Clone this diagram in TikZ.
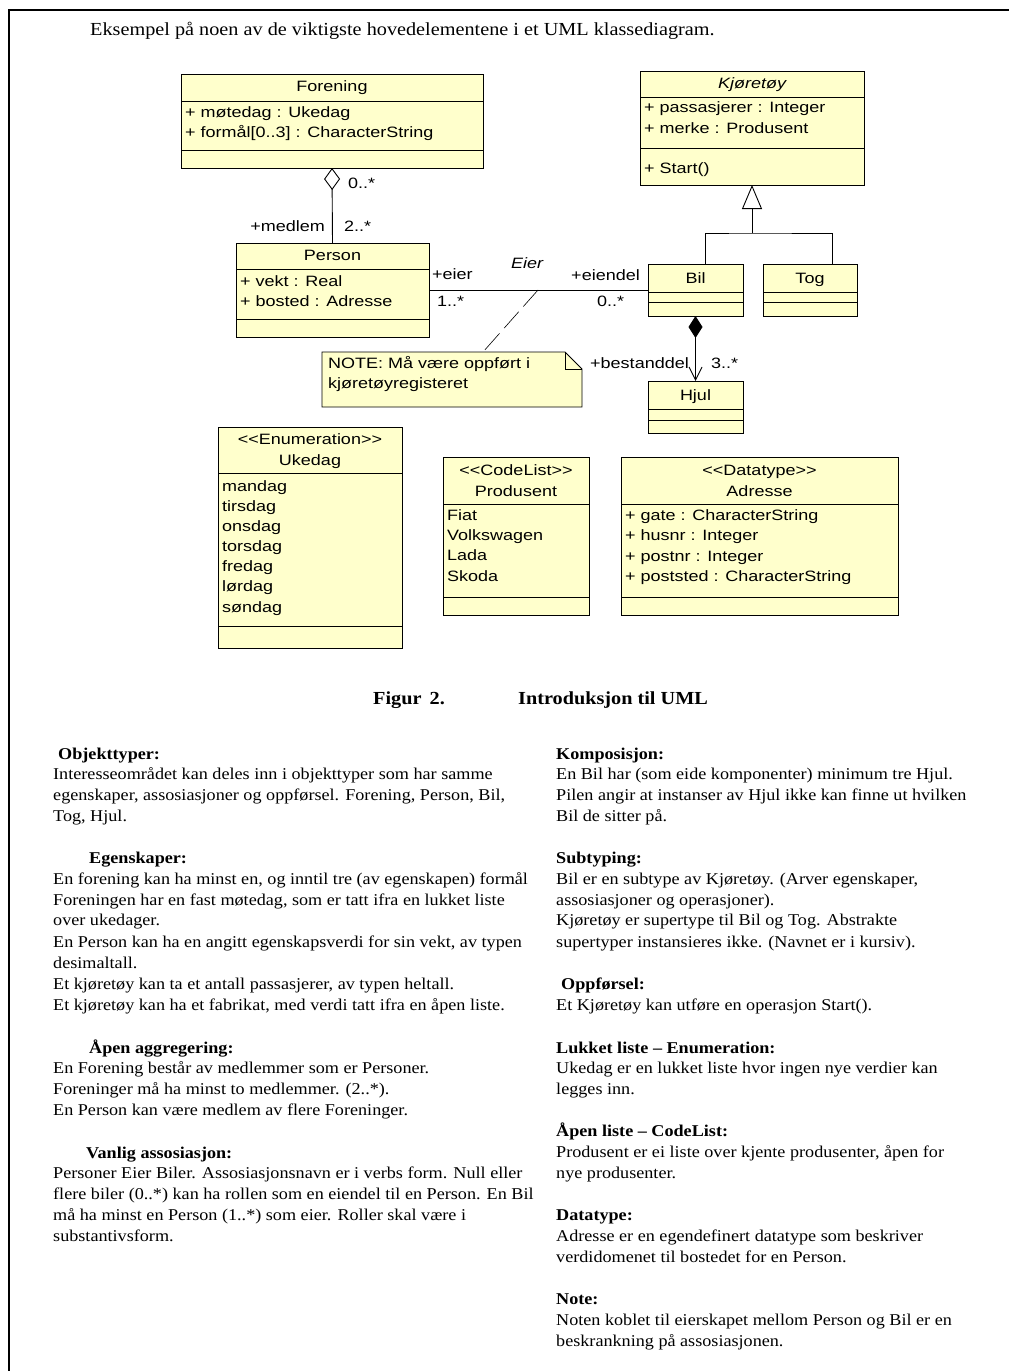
\documentclass[tikz,border=0pt]{standalone}
\usepackage{fontspec}
\setmainfont{Liberation Serif}[FakeStretch=1.1]
\newfontfamily\umlfont{Liberation Sans}[FakeStretch=1.2]
\usetikzlibrary{arrows.meta,fit}
\definecolor{umlyellow}{RGB}{255,255,204}
\tikzset{
  cls/.style={draw, fill=umlyellow, inner sep=0pt, outer sep=0pt, line width=0.9pt},
  sepl/.style={line width=0.9pt},
  conn/.style={line width=0.9pt},
  ut/.style={font=\umlfont\fontsize{15}{18}\selectfont, inner sep=0pt, anchor=mid west, yshift=-2.5pt},
  utc/.style={ut, anchor=mid},
  ute/.style={ut, anchor=mid east},
  bt/.style={font=\fontsize{16.5}{20}\selectfont, inner sep=0pt, anchor=mid west, yshift=-3pt},
  bh/.style={font=\bfseries\fontsize{16.5}{20}\selectfont, inner sep=0pt, anchor=mid west, yshift=-3pt},
  ht/.style={font=\fontsize{18.4}{22}\selectfont, inner sep=0pt, anchor=mid west, yshift=-3pt},
  hb/.style={font=\bfseries\fontsize{18.4}{22}\selectfont, inner sep=0pt, anchor=mid west, yshift=-3pt},
}
\begin{document}
\begin{tikzpicture}[x=1pt,y=-1pt]
\useasboundingbox (0,0) rectangle (1009,1371);
% page frame
\draw[line width=1.4pt] (9,1371) -- (9,10) -- (1009,10);
\node[ht] (head) at (90,30) {Eksempel på noen av de viktigste hovedelementene i et UML klassediagram.};

% ---------- Forening
\node[cls, fit={(181,74) (483,168)}] (forening) {};
\draw[sepl] (181,101) -- (483,101);
\draw[sepl] (181,150) -- (483,150);
\node[utc] (foreningT) at (332,87) {Forening};
\node[ut] (foreningA1) at (185,113) {+ møtedag : Ukedag};
\node[ut] (foreningA2) at (185,133) {+ formål[0..3] : CharacterString};

% ---------- Kjoretoy
\node[cls, fit={(640,71) (864,185)}] (kjoretoy) {};
\draw[sepl] (640,97) -- (864,97);
\draw[sepl] (640,148) -- (864,148);
\node[utc, font=\umlfont\itshape\fontsize{15}{18}\selectfont] (kjoretoyT) at (752,84) {Kjøretøy};
\node[ut] (kjoretoyA1) at (644,108) {+ passasjerer : Integer};
\node[ut] (kjoretoyA2) at (644,129) {+ merke : Produsent};
\node[ut] (kjoretoyO1) at (644,169) {+ Start()};

% ---------- Person
\node[cls, fit={(236,243) (429,337)}] (person) {};
\draw[sepl] (236,269) -- (429,269);
\draw[sepl] (236,319) -- (429,319);
\node[utc] (personT) at (332.5,256) {Person};
\node[ut] (personA1) at (240,282) {+ vekt : Real};
\node[ut] (personA2) at (240,302) {+ bosted : Adresse};

% ---------- Bil, Tog, Hjul
\node[cls, fit={(648,264) (743,316)}] (bil) {};
\draw[sepl] (648,292) -- (743,292);
\draw[sepl] (648,302) -- (743,302);
\node[utc] (bilT) at (695.5,279) {Bil};

\node[cls, fit={(763,264) (857,316)}] (tog) {};
\draw[sepl] (763,292) -- (857,292);
\draw[sepl] (763,302) -- (857,302);
\node[utc] (togT) at (810,279) {Tog};

\node[cls, fit={(648,381) (743,433)}] (hjul) {};
\draw[sepl] (648,409) -- (743,409);
\draw[sepl] (648,420) -- (743,420);
\node[utc] (hjulT) at (695.5,396) {Hjul};

% ---------- Note
\node[inner sep=0pt, outer sep=0pt, fit={(322,352) (582,407)}] (note) {};
\draw[sepl, fill=umlyellow] (note.north west) -- (565,352) -- (582,369) -- (note.south east) -- (note.south west) -- cycle;
\draw[sepl] (565,352) -- (565,369) -- (582,369);
\node[ut] (noteL1) at (328,364) {NOTE: Må være oppført i};
\node[ut] (noteL2) at (328,384) {kjøretøyregisteret};

% ---------- Ukedag
\node[cls, fit={(218,427) (402,648)}] (ukedag) {};
\draw[sepl] (218,473) -- (402,473);
\draw[sepl] (218,626) -- (402,626);
\node[utc] (ukedagS) at (310,440) {<{}<Enumeration>{}>};
\node[utc] (ukedagT) at (310,461) {Ukedag};
\node[ut] (uk1) at (222,487) {mandag};
\node[ut] (uk2) at (222,507) {tirsdag};
\node[ut] (uk3) at (222,527) {onsdag};
\node[ut] (uk4) at (222,547) {torsdag};
\node[ut] (uk5) at (222,567) {fredag};
\node[ut] (uk6) at (222,587) {lørdag};
\node[ut] (uk7) at (222,608) {søndag};

% ---------- Produsent
\node[cls, fit={(443,457) (589,615)}] (produsent) {};
\draw[sepl] (443,504) -- (589,504);
\draw[sepl] (443,597) -- (589,597);
\node[utc] (produsentS) at (516,471) {<{}<CodeList>{}>};
\node[utc] (produsentT) at (516,492) {Produsent};
\node[ut] (pr1) at (447,516) {Fiat};
\node[ut] (pr2) at (447,536) {Volkswagen};
\node[ut] (pr3) at (447,556) {Lada};
\node[ut] (pr4) at (447,577) {Skoda};

% ---------- Adresse
\node[cls, fit={(621,457) (898,615)}] (adresse) {};
\draw[sepl] (621,504) -- (898,504);
\draw[sepl] (621,597) -- (898,597);
\node[utc] (adresseS) at (759.5,471) {<{}<Datatype>{}>};
\node[utc] (adresseT) at (759.5,492) {Adresse};
\node[ut] (ad1) at (625,516) {+ gate : CharacterString};
\node[ut] (ad2) at (625,536) {+ husnr : Integer};
\node[ut] (ad3) at (625,557) {+ postnr : Integer};
\node[ut] (ad4) at (625,577) {+ poststed : CharacterString};

% ---------- connectors
% aggregation
\draw[conn, -{Diamond[open, fill=white, width=16pt, length=22pt]}] (person.north) -- (forening.south);
\node[ut] (m1) at (348,184) {0..*};
\node[ute] (m2) at (325,227) {+medlem};
\node[ut] (m3) at (344,227) {2..*};

% generalization
\coordinate (gj) at (752,233);
\coordinate (bilx) at (705,0);
\coordinate (togx) at (832,0);
\draw[conn] (bil.north -| bilx) |- (gj) -| (tog.north -| togx);
\draw[conn, -{Triangle[open, fill=white, width=20pt, length=24pt]}] (gj) -- (kjoretoy.south);

% association Eier
\coordinate (ay) at (0,290);
\draw[conn] (person.east |- ay) -- (bil.west |- ay);
\node[ut] (a1) at (432,275) {+eier};
\node[ut] (a2) at (437,302) {1..*};
\node[utc, font=\umlfont\itshape\fontsize{15}{18}\selectfont] (a3) at (527,264) {Eier};
\node[ute] (a4) at (640,276) {+eiendel};
\node[ut] (a5) at (597,302) {0..*};

% note link
\coordinate (assocpt) at (538,290);
\coordinate (notex) at (483,0);
\draw[line width=0.6pt, dash pattern=on 22pt off 7pt] (assocpt) -- (note.north -| notex);

% composition
\draw[conn, {Diamond[width=14pt, length=22pt]}-{Straight Barb[length=13pt, width=13pt]}] (bil.south) -- (hjul.north);
\node[ute] (c1) at (689,364) {+bestanddel};
\node[ut] (c2) at (711,364) {3..*};

% ---------- caption
\node[hb] (fig) at (373,699) {Figur\, 2.};
\node[hb] (figt) at (518,699) {Introduksjon til UML};

% ---------- left column
\node[bh] (l1) at (58,754) {Objekttyper:};
\node[bt] (l2) at (53,774) {Interesseområdet kan deles inn i objekttyper som har samme};
\node[bt] (l3) at (53,795) {egenskaper, assosiasjoner og oppførsel. Forening, Person, Bil,};
\node[bt] (l4) at (53,816) {Tog, Hjul.};
\node[bh] (l5) at (89,858) {Egenskaper:};
\node[bt] (l6) at (53,879) {En forening kan ha minst en, og inntil tre (av egenskapen) formål};
\node[bt] (l7) at (53,900) {Foreningen har en fast møtedag, som er tatt ifra en lukket liste};
\node[bt] (l8) at (53,920) {over ukedager.};
\node[bt] (l9) at (53,942) {En Person kan ha en angitt egenskapsverdi for sin vekt, av typen};
\node[bt] (l10) at (53,963) {desimaltall.};
\node[bt] (l11) at (53,984) {Et kjøretøy kan ta et antall passasjerer, av typen heltall.};
\node[bt] (l12) at (53,1005) {Et kjøretøy kan ha et fabrikat, med verdi tatt ifra en åpen liste.};
\node[bh] (l13) at (89,1048) {Åpen aggregering:};
\node[bt] (l14) at (53,1068) {En Forening består av medlemmer som er Personer.};
\node[bt] (l15) at (53,1089) {Foreninger må ha minst to medlemmer. (2..*).};
\node[bt] (l16) at (53,1110) {En Person kan være medlem av flere Foreninger.};
\node[bh] (l17) at (86,1153) {Vanlig assosiasjon:};
\node[bt] (l18) at (53,1173) {Personer Eier Biler. Assosiasjonsnavn er i verbs form. Null eller};
\node[bt] (l19) at (53,1194) {flere biler (0..*) kan ha rollen som en eiendel til en Person. En Bil};
\node[bt] (l20) at (53,1215) {må ha minst en Person (1..*) som eier. Roller skal være i};
\node[bt] (l21) at (53,1236) {substantivsform.};

% ---------- right column
\node[bh] (r1) at (556,754) {Komposisjon:};
\node[bt] (r2) at (556,774) {En Bil har (som eide komponenter) minimum tre Hjul.};
\node[bt] (r3) at (556,795) {Pilen angir at instanser av Hjul ikke kan finne ut hvilken};
\node[bt] (r4) at (556,816) {Bil de sitter på.};
\node[bh] (r5) at (556,858) {Subtyping:};
\node[bt] (r6) at (556,879) {Bil er en subtype av Kjøretøy. (Arver egenskaper,};
\node[bt] (r7) at (556,900) {assosiasjoner og operasjoner).};
\node[bt] (r8) at (556,920) {Kjøretøy er supertype til Bil og Tog. Abstrakte};
\node[bt] (r9) at (556,942) {supertyper instansieres ikke. (Navnet er i kursiv).};
\node[bh] (r10) at (561,984) {Oppførsel:};
\node[bt] (r11) at (556,1005) {Et Kjøretøy kan utføre en operasjon Start().};
\node[bh] (r12) at (556,1048) {Lukket liste – Enumeration:};
\node[bt] (r13) at (556,1068) {Ukedag er en lukket liste hvor ingen nye verdier kan};
\node[bt] (r14) at (556,1089) {legges inn.};
\node[bh] (r15) at (556,1131) {Åpen liste – CodeList:};
\node[bt] (r16) at (556,1152) {Produsent er ei liste over kjente produsenter, åpen for};
\node[bt] (r17) at (556,1173) {nye produsenter.};
\node[bh] (r18) at (556,1215) {Datatype:};
\node[bt] (r19) at (556,1236) {Adresse er en egendefinert datatype som beskriver};
\node[bt] (r20) at (556,1257) {verdidomenet til bostedet for en Person.};
\node[bh] (r21) at (556,1299) {Note:};
\node[bt] (r22) at (556,1320) {Noten koblet til eierskapet mellom Person og Bil er en};
\node[bt] (r23) at (556,1341) {beskrankning på assosiasjonen.};
\end{tikzpicture}
\end{document}
